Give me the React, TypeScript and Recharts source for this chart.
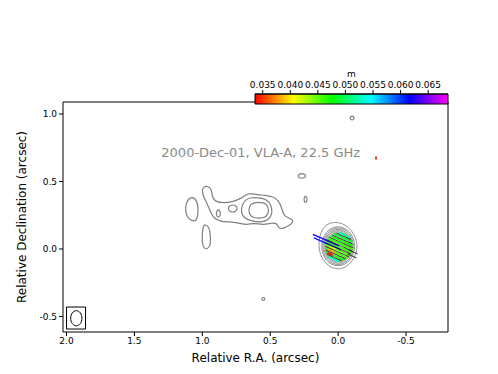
import { ScatterChart, Scatter, XAxis, YAxis, ReferenceArea, ReferenceDot } from "recharts"

const raTicks = [2.0, 1.5, 1.0, 0.5, 0.0, -0.5]
const decTicks = [1.0, 0.5, 0.0, -0.5]
const fracPolTicks = [0.035, 0.04, 0.045, 0.05, 0.055, 0.06, 0.065]
const raDomain = [-0.809, 2.026]
const decDomain = [-0.615, 1.089]
const fracPolDomain = [0.0336, 0.0686]

// total intensity contours, [RA offset, Dec offset] in arcsec
const jetOuter = [
  [1.002, 0.437], [0.993, 0.461], [0.956, 0.467], [0.929, 0.437], [0.929, 0.387],
  [0.904, 0.35], [0.846, 0.341], [0.772, 0.35], [0.708, 0.378], [0.684, 0.4],
  [0.647, 0.415], [0.598, 0.4], [0.537, 0.4], [0.478, 0.387], [0.441, 0.363],
  [0.414, 0.304], [0.404, 0.252], [0.368, 0.23], [0.331, 0.215], [0.333, 0.193],
  [0.377, 0.165], [0.414, 0.148], [0.441, 0.156], [0.451, 0.193], [0.488, 0.193],
  [0.551, 0.178], [0.625, 0.193], [0.671, 0.178], [0.735, 0.193], [0.794, 0.202],
  [0.868, 0.202], [0.919, 0.23], [0.941, 0.276], [0.965, 0.341], [0.993, 0.387],
]
const jetMiddle = [
  [0.708, 0.326], [0.684, 0.363], [0.647, 0.381], [0.588, 0.381], [0.524, 0.367],
  [0.493, 0.326], [0.482, 0.267], [0.511, 0.211], [0.574, 0.196], [0.635, 0.207],
  [0.688, 0.226], [0.717, 0.267],
]
const jetInner = [
  [0.508, 0.287], [0.523, 0.337], [0.585, 0.35], [0.647, 0.337],
  [0.662, 0.287], [0.647, 0.237], [0.585, 0.224], [0.523, 0.237],
]
const westLobe = [
  [1.076, 0.387], [1.039, 0.363], [1.029, 0.289], [1.037, 0.23], [1.051, 0.202],
  [1.088, 0.215], [1.113, 0.239], [1.125, 0.289], [1.121, 0.333], [1.103, 0.37],
]
const southLobe = [
  [0.978, 0.185], [0.946, 0.156], [0.941, 0.096], [0.938, 0.03], [0.963, -0.004],
  [0.993, 0.007], [1.002, 0.052], [1.0, 0.126], [0.993, 0.17],
]
const knotA = [
  [0.898, 0.263], [0.893, 0.284], [0.882, 0.292], [0.871, 0.284],
  [0.866, 0.263], [0.871, 0.242], [0.882, 0.234], [0.893, 0.242],
]
const knotB = [
  [0.812, 0.3], [0.801, 0.32], [0.776, 0.329], [0.751, 0.32],
  [0.74, 0.3], [0.751, 0.28], [0.776, 0.271], [0.801, 0.28],
]
const knotC = [
  [0.297, 0.541], [0.288, 0.554], [0.267, 0.56], [0.246, 0.554],
  [0.237, 0.541], [0.246, 0.528], [0.267, 0.522], [0.288, 0.528],
]
const knotD = [
  [0.252, 0.368], [0.248, 0.385], [0.24, 0.392], [0.232, 0.385],
  [0.228, 0.368], [0.232, 0.351], [0.24, 0.344], [0.248, 0.351],
]
const northSpot = [
  [-0.087, 0.97], [-0.092, 0.981], [-0.103, 0.986], [-0.114, 0.981],
  [-0.119, 0.97], [-0.114, 0.959], [-0.103, 0.954], [-0.092, 0.959],
]
const southSpot = [
  [0.563, -0.37], [0.56, -0.362], [0.551, -0.358], [0.542, -0.362],
  [0.539, -0.37], [0.542, -0.378], [0.551, -0.382], [0.56, -0.378],
]
const coreLevels = [
  [[-0.146, 0.014], [-0.126, 0.1], [-0.071, 0.172], [0.007, 0.203], [0.087, 0.189], [0.134, 0.117],
   [0.146, 0.022], [0.126, -0.065], [0.071, -0.129], [0.0, -0.156], [-0.071, -0.129], [-0.122, -0.065]],
  [[0.134, 0.02], [0.095, 0.133], [0.0, 0.18], [-0.095, 0.133], [-0.134, 0.02], [-0.095, -0.093], [0.0, -0.14], [0.095, -0.093]],
  [[0.124, 0.02], [0.088, 0.126], [0.0, 0.17], [-0.088, 0.126], [-0.124, 0.02], [-0.088, -0.086], [0.0, -0.13], [0.088, -0.086]],
  [[0.115, 0.02], [0.081, 0.118], [0.0, 0.159], [-0.081, 0.118], [-0.115, 0.02], [-0.081, -0.078], [0.0, -0.119], [0.081, -0.078]],
  [[0.106, 0.02], [0.075, 0.111], [0.0, 0.148], [-0.075, 0.111], [-0.106, 0.02], [-0.075, -0.071], [0.0, -0.108], [0.075, -0.071]],
  [[0.098, 0.02], [0.069, 0.103], [0.0, 0.138], [-0.069, 0.103], [-0.098, 0.02], [-0.069, -0.063], [0.0, -0.098], [0.069, -0.063]],
  [[0.09, 0.02], [0.064, 0.096], [0.0, 0.128], [-0.064, 0.096], [-0.09, 0.02], [-0.064, -0.056], [0.0, -0.088], [0.064, -0.056]],
  [[0.074, 0.02], [0.052, 0.082], [0.0, 0.108], [-0.052, 0.082], [-0.074, 0.02], [-0.052, -0.042], [0.0, -0.068], [0.052, -0.042]],
  [[0.058, 0.02], [0.041, 0.068], [0.0, 0.088], [-0.041, 0.068], [-0.058, 0.02], [-0.041, -0.028], [0.0, -0.048], [0.041, -0.028]],
]
const beam = [
  [1.974, -0.513], [1.9605, -0.469], [1.928, -0.451], [1.8955, -0.469],
  [1.882, -0.513], [1.8955, -0.557], [1.928, -0.575], [1.9605, -0.557],
]

// polarisation vectors: position, EVPA (deg), length (arcsec), fractional pol m
const polVectors = [
  { x: -0.047, y: 0.104, pa: 66, len: 0.088, m: 0.052 },
  { x: -0.037, y: 0.082, pa: 66, len: 0.147, m: 0.049 },
  { x: -0.027, y: 0.059, pa: 66, len: 0.176, m: 0.047 },
  { x: -0.017, y: 0.037, pa: 66, len: 0.199, m: 0.046 },
  { x: -0.007, y: 0.015, pa: 66, len: 0.206, m: 0.046 },
  { x: 0.002, y: -0.007, pa: 66, len: 0.199, m: 0.045 },
  { x: 0.013, y: -0.03, pa: 66, len: 0.176, m: 0.046 },
  { x: 0.022, y: -0.053, pa: 66, len: 0.147, m: 0.047 },
  { x: 0.032, y: -0.075, pa: 66, len: 0.088, m: 0.053 },
  { x: 0.037, y: 0.007, pa: 66, len: 0.059, m: 0.042 },
  { x: 0.051, y: -0.015, pa: 66, len: 0.059, m: 0.038 },
  { x: 0.059, y: -0.037, pa: 66, len: 0.044, m: 0.034 },
  { x: -0.279, y: 0.674, pa: 0, len: 0.022, m: 0.035 },
]
const bluePairs = [
  { x: 0.09, y: 0.066, pa: 66, len: 0.21, m: 0.062 },
  { x: 0.078, y: 0.038, pa: 66, len: 0.22, m: 0.061 },
]
const evpaSticks = [
  { x: -0.042, y: 0.093, pa: 66, len: 0.118 },
  { x: -0.032, y: 0.07, pa: 66, len: 0.162 },
  { x: -0.022, y: 0.048, pa: 66, len: 0.19 },
  { x: -0.012, y: 0.026, pa: 66, len: 0.204 },
  { x: -0.002, y: 0.004, pa: 66, len: 0.204 },
  { x: 0.007, y: -0.019, pa: 66, len: 0.19 },
  { x: 0.017, y: -0.041, pa: 66, len: 0.162 },
  { x: 0.027, y: -0.064, pa: 66, len: 0.118 },
  { x: -0.11, y: -0.022, pa: 66, len: 0.074 },
  { x: -0.103, y: -0.052, pa: 66, len: 0.074 },
]

const toPts = (a: number[][]) => a.map(([x, y]) => ({ x, y }))

function stick(v: { x: number; y: number; pa: number; len: number }) {
  const a = (v.pa * Math.PI) / 180
  const dx = (Math.sin(a) * v.len) / 2
  const dy = (Math.cos(a) * v.len) / 2
  return [{ x: v.x + dx, y: v.y + dy }, { x: v.x - dx, y: v.y - dy }]
}

function fracPolColor(m: number) {
  const t = Math.min(1, Math.max(0, (m - fracPolDomain[0]) / (fracPolDomain[1] - fracPolDomain[0])))
  return `hsl(${Math.round(300 * t)}, 100%, 50%)`
}

const fmt = (v: number) => v.toFixed(1)
const noDot = () => <g />
const tickStyle = { fontSize: 9, fill: "#000" }

function Contour({ pts, color = "#808080", width = 1 }: any) {
  return (
    <Scatter
      data={toPts(pts)}
      shape={noDot}
      line={{ stroke: color, strokeWidth: width }}
      lineJointType="basisClosed"
      isAnimationActive={false}
    />
  )
}

function Stick({ v, color, width }: any) {
  return (
    <Scatter data={stick(v)} shape={noDot} line={{ stroke: color, strokeWidth: width }} isAnimationActive={false} />
  )
}

export default function App() {
  const contours = [jetOuter, jetMiddle, jetInner, westLobe, southLobe, knotA, knotB, knotC, knotD, northSpot, southSpot]
  return (
    <div style={{ position: "absolute", left: 0, top: 0, width: 498, height: 374, background: "#fff", fontFamily: "DejaVu Sans" }}>
      <div style={{ position: "absolute", left: 0, top: 0 }}>
        <ScatterChart width={498} height={374} margin={{ top: 92, right: 0, bottom: 0, left: 0 }}>
          <XAxis
            type="number"
            dataKey="x"
            domain={raDomain}
            reversed
            allowDataOverflow
            ticks={raTicks}
            interval={0}
            tickFormatter={fmt}
            height={42}
            tickSize={4}
            stroke="#000"
            tick={tickStyle}
            label={{
              content: (p: any) => (
                <text x={p.viewBox.x + p.viewBox.width / 2} y={p.viewBox.y + 30} textAnchor="middle" fontSize={12} fill="#000">
                  Relative R.A. (arcsec)
                </text>
              ),
            }}
          />
          <XAxis
            xAxisId="top"
            orientation="top"
            type="number"
            dataKey="x"
            domain={raDomain}
            reversed
            allowDataOverflow
            ticks={raTicks}
            interval={0}
            tick={false}
            height={10}
            tickSize={4}
            stroke="#000"
          />
          <YAxis
            type="number"
            dataKey="y"
            domain={decDomain}
            allowDataOverflow
            ticks={decTicks}
            interval={0}
            tickFormatter={fmt}
            width={63}
            tickSize={4}
            stroke="#000"
            tick={tickStyle}
            label={{
              content: (p: any) => {
                const x = p.viewBox.x + 25.5
                const y = p.viewBox.y + p.viewBox.height / 2
                return (
                  <text x={x} y={y} transform={`rotate(-90, ${x}, ${y})`} textAnchor="middle" fontSize={12} fill="#000">
                    Relative Declination (arcsec)
                  </text>
                )
              },
            }}
          />
          <YAxis
            yAxisId="right"
            orientation="right"
            type="number"
            dataKey="y"
            domain={decDomain}
            allowDataOverflow
            ticks={decTicks}
            interval={0}
            tick={false}
            width={50}
            tickSize={4}
            stroke="#000"
          />
          {contours.map((c, i) => (
            <Contour key={"c" + i} pts={c} width={1.2} />
          ))}
          {coreLevels.map((c, i) => (
            <Contour key={"core" + i} pts={c} color="#858585" width={0.9} />
          ))}
          {polVectors.map((v, i) => (
            <Stick key={"v" + i} v={v} color={fracPolColor(v.m)} width={2} />
          ))}
          {bluePairs.map((v, i) => (
            <Stick key={"b" + i} v={v} color={fracPolColor(v.m)} width={1.3} />
          ))}
          {evpaSticks.map((v, i) => (
            <Stick key={"s" + i} v={v} color="#111" width={0.8} />
          ))}
          <ReferenceArea x1={2.0} x2={1.86} y1={-0.593} y2={-0.43} fill="none" stroke="#000" strokeWidth={1} ifOverflow="visible" />
          <Contour pts={beam} color="#000" width={1} />
          <ReferenceDot
            x={0.57}
            y={0.719}
            r={0}
            fill="none"
            stroke="none"
            label={{ value: "2000-Dec-01, VLA-A, 22.5 GHz", position: "center", fill: "#8a8a8a", fontSize: 13 }}
          />
        </ScatterChart>
      </div>
      <div style={{ position: "absolute", left: 0, top: 0 }}>
        <ScatterChart width={498} height={110} margin={{ top: 64, right: 50, bottom: 6, left: 255 }}>
          <defs>
            <linearGradient id="cbGrad" x1="0" y1="0" x2="1" y2="0">
              {[0, 0.2, 0.4, 0.6, 0.8, 1].map((t) => (
                <stop key={t} offset={t} stopColor={fracPolColor(fracPolDomain[0] + t * (fracPolDomain[1] - fracPolDomain[0]))} />
              ))}
            </linearGradient>
          </defs>
          <XAxis
            type="number"
            dataKey="x"
            orientation="top"
            domain={fracPolDomain}
            allowDataOverflow
            ticks={fracPolTicks}
            interval={0}
            tickFormatter={(v: number) => v.toFixed(3)}
            height={30}
            tickSize={4}
            stroke="#000"
            tick={tickStyle}
            label={{
              content: (p: any) => (
                <text x={p.viewBox.x + p.viewBox.width / 2} y={p.viewBox.y + 13} textAnchor="middle" fontSize={9} fill="#000">
                  m
                </text>
              ),
            }}
          />
          <YAxis type="number" dataKey="y" domain={[0, 1]} hide />
          <ReferenceArea x1={fracPolDomain[0]} x2={fracPolDomain[1]} y1={0} y2={1} fill="url(#cbGrad)" fillOpacity={1} stroke="#000" strokeWidth={1} />
          <Scatter data={fracPolTicks.map((x) => ({ x, y: 0.5 }))} shape={noDot} isAnimationActive={false} />
        </ScatterChart>
      </div>
    </div>
  )
}
